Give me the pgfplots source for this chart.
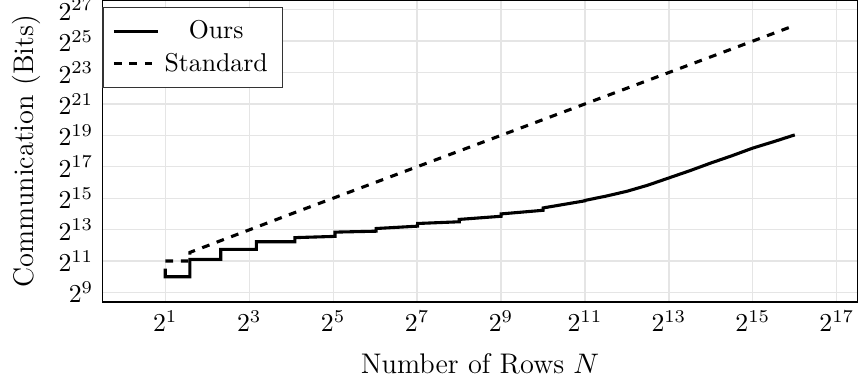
\documentclass[border=0pt]{standalone}
\usepackage{pgfplots}
\usetikzlibrary{calc}
\pgfplotsset{compat=1.18}
\begin{document}
\begin{tikzpicture}
\begin{axis}[
  scale only axis,
  width=293pt, height=117pt,
  xmode=log, ymode=log, log basis x=2, log basis y=2,
  xmin=0.7071, xmax=185364,
  ymin=337.8, ymax=203280000,
  xtick={2,8,32,128,512,2048,8192,32768,131072},
  ytick={512,2048,8192,32768,131072,524288,2097152,8388608,33554432,134217728},
  minor tick num=0,
  tick style={draw=none},
  grid=major,
  major grid style={draw=black!10, line width=0.5pt},
  axis line style={black, line width=0.6pt},
  xlabel={Number of Rows $N$},
  ylabel={Communication (Bits)},
  label style={font=\fontsize{11}{13}\selectfont},
  xlabel style={yshift=-1.5pt},
  legend cell align=center,
  legend style={at={(0,1)}, anchor=north west, yshift=-2.6pt, draw=black!80, line width=0.5pt, font=\normalsize, inner xsep=3.6pt, inner ysep=3pt},
]
\addplot[black, very thick] coordinates {
(2,1468) (2,1024) (3,1024) (3,2210) (5,2210) (5,3420) (9,3420) (9,4805) (17,4805) (17,5752) (33,6080) (33,7333) (65,7643) (65,8600) (129,9544) (129,10737) (257,11585) (257,12855) (513,14768) (513,16384) (1025,19219) (1025,21320) (2048,29200) (2049,29735) (2896,35858) (4096,44460) (5793,58250) (8192,80150) (11585,110200) (16384,154800) (23170,212960) (32768,299100) (46341,397400) (65536,535300)
};
\addlegendentry{Ours}
\addplot[black, very thick, dashed] coordinates {
(2,2048) (3,2048) (3,2998) (4,4011) (5,5042) (8,8100) (16,16384) (512,524288) (65536,67108864)
};
\addlegendentry{Standard}
\end{axis}
\pgfresetboundingbox
\path[use as bounding box] ($(current axis.south west)+(-39.7pt,-30.3pt)$) rectangle ($(current axis.north east)+(0.5pt,0.1pt)$);
\end{tikzpicture}
\end{document}
